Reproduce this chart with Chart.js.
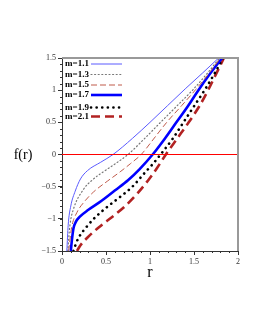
<!DOCTYPE html>
<html>
<head>
<meta charset="utf-8">
<script src="https://cdn.jsdelivr.net/npm/chart.js@4.4.1/dist/chart.umd.min.js"></script>
<style>
  body { margin: 0; background: #fff; }
  #wrap { width: 258px; height: 333px; }
</style>
</head>
<body>
<div id="wrap"><canvas id="myChart" width="258" height="333"></canvas></div>
<script>
const ctx = document.getElementById('myChart');

// values: r and f(r) per curve
const labels = ['m=1.1', 'm=1.3', 'm=1.5', 'm=1.7', 'm=1.9', 'm=2.1'];

const r11 = [0.055, 0.07, 0.1, 0.15, 0.21, 0.29, 0.44, 0.58, 0.8, 1.0, 1.2, 1.4, 1.6, 1.78];
const f11 = [-1.5, -1.1, -0.8, -0.57, -0.38, -0.25, -0.12, 0, 0.25, 0.5, 0.76, 1.02, 1.27, 1.5];

const r13 = [0.065, 0.09, 0.13, 0.24, 0.35, 0.48, 0.62, 0.75, 0.94, 1.12, 1.31, 1.49, 1.65, 1.79];
const f13 = [-1.5, -1.1, -0.85, -0.55, -0.39, -0.26, -0.13, 0, 0.25, 0.5, 0.76, 1.01, 1.26, 1.5];

const r15 = [0.075, 0.11, 0.17, 0.25, 0.36, 0.52, 0.66, 0.78, 0.9, 1.04, 1.19, 1.36, 1.52, 1.67, 1.8];
const f15 = [-1.5, -1.13, -0.9, -0.74, -0.58, -0.41, -0.27, -0.14, 0, 0.24, 0.5, 0.76, 1.01, 1.26, 1.5];

const r17 = [0.1, 0.115, 0.13, 0.16, 0.2, 0.3, 0.45, 0.6, 0.75, 0.88, 1.03, 1.17, 1.3, 1.43, 1.55, 1.68, 1.82];
const f17 = [-1.5, -1.3, -1.15, -1.04, -0.97, -0.86, -0.72, -0.56, -0.4, -0.23, 0, 0.25, 0.5, 0.75, 1, 1.25, 1.5];

const r19 = [0.13, 0.16, 0.19, 0.27, 0.36, 0.5, 0.65, 0.8, 0.93, 1.03, 1.12, 1.26, 1.38, 1.5, 1.62, 1.73, 1.83];
const f19 = [-1.5, -1.38, -1.29, -1.14, -1.0, -0.83, -0.67, -0.5, -0.3, -0.15, 0, 0.25, 0.5, 0.75, 1, 1.25, 1.5];

const r21 = [0.17, 0.21, 0.29, 0.42, 0.57, 0.72, 0.86, 0.98, 1.08, 1.18, 1.31, 1.44, 1.56, 1.66, 1.75, 1.84];
const f21 = [-1.5, -1.41, -1.29, -1.13, -0.97, -0.8, -0.6, -0.4, -0.21, 0, 0.25, 0.5, 0.75, 1, 1.25, 1.5];

const xTicks = [0, 0.5, 1, 1.5, 2];
const yTicks = [-1.5, -1, -0.5, 0, 0.5, 1, 1.5];

const styles = [
  { color: '#5a5aff', width: 1, dash: [] },
  { color: '#777777', width: 1.2, dash: [1, 2.6], cap: 'round' },
  { color: '#bf5a4a', width: 1, dash: [6, 3] },
  { color: '#0000ff', width: 2.6, dash: [] },
  { color: '#000000', width: 2.6, dash: [0.1, 5.5], cap: 'round' },
  { color: '#b22222', width: 2.6, dash: [9, 5] }
];

function pts(rs, fs) {
  return rs.map((r, i) => ({ x: r, y: fs[i] }));
}

const series = [pts(r11, f11), pts(r13, f13), pts(r15, f15), pts(r17, f17), pts(r19, f19), pts(r21, f21)];

const datasets = series.map((d, i) => ({
  label: labels[i],
  data: d,
  borderColor: styles[i].color,
  borderWidth: styles[i].width,
  borderDash: styles[i].dash,
  borderCapStyle: styles[i].cap || 'butt',
  pointRadius: 0,
  cubicInterpolationMode: 'monotone',
  fill: false
}));

// zero line
datasets.unshift({
  label: 'zero',
  data: [{ x: 0, y: 0 }, { x: 2, y: 0 }],
  borderColor: '#ff0000',
  borderWidth: 1,
  pointRadius: 0
});

const extras = {
  id: 'extras',
  afterDraw(chart) {
    const c = chart.ctx;
    const a = chart.chartArea;
    const xs = chart.scales.x, ys = chart.scales.y;
    c.save();
    // frame top and right
    c.strokeStyle = '#999';
    c.lineWidth = 2;
    c.beginPath();
    c.moveTo(a.left, a.top);
    c.lineTo(a.right, a.top);
    c.lineTo(a.right, a.bottom);
    c.stroke();
    // minor ticks
    c.strokeStyle = '#333';
    c.lineWidth = 1;
    c.beginPath();
    for (let v = -1.5; v <= 1.5001; v += 0.1) {
      const y = Math.round(ys.getPixelForValue(v)) + 0.5;
      c.moveTo(a.left - 2, y);
      c.lineTo(a.left, y);
    }
    for (let v = 0; v <= 2.0001; v += 0.1) {
      const x = Math.round(xs.getPixelForValue(v)) + 0.5;
      c.moveTo(x, a.bottom);
      c.lineTo(x, a.bottom + 2);
    }
    c.stroke();
    // axis titles
    c.fillStyle = '#000';
    c.font = '14px "Liberation Serif"';
    c.textAlign = 'center';
    c.textBaseline = 'middle';
    c.fillText('f(r)', 23, ys.getPixelForValue(0) + 1);
    c.font = '16px "Liberation Serif"';
    c.fillText('r', (a.left + a.right) / 2, 273);
    // legend
    const rowsY = [64, 74.5, 85, 95, 107.5, 116.5];
    c.font = 'bold 9px "Liberation Serif"';
    c.textAlign = 'left';
    for (let i = 0; i < labels.length; i++) {
      const y = rowsY[i];
      c.fillStyle = '#000';
      c.fillText(labels[i], 65, y);
      c.strokeStyle = styles[i].color;
      c.lineWidth = styles[i].width;
      c.setLineDash(styles[i].dash);
      c.lineCap = styles[i].cap || 'butt';
      c.beginPath();
      c.moveTo(91, y);
      c.lineTo(122, y);
      c.stroke();
    }
    c.restore();
  }
};

const myChart = new Chart(ctx, {
  type: 'line',
  data: { datasets: datasets },
  options: {
    responsive: false,
    animation: false,
    layout: { padding: { top: 58, right: 20, left: 0, bottom: 0 } },
    plugins: { legend: { display: false }, tooltip: { enabled: false } },
    scales: {
      x: {
        type: 'linear',
        min: 0,
        max: 2,
        afterFit: s => { s.height = 82; },
        afterBuildTicks: s => { s.ticks = xTicks.map(v => ({ value: v })); },
        ticks: {
          color: '#333',
          font: { family: 'Liberation Serif', size: 8 },
          padding: 2,
          maxRotation: 0,
          callback: v => String(v)
        },
        grid: { drawOnChartArea: false, drawTicks: true, tickLength: 4, color: '#333' },
        border: { display: true, color: '#333', width: 1 }
      },
      y: {
        type: 'linear',
        min: -1.5,
        max: 1.5,
        afterFit: s => { s.width = 62; },
        afterBuildTicks: s => { s.ticks = yTicks.map(v => ({ value: v })); },
        ticks: {
          color: '#333',
          font: { family: 'Liberation Serif', size: 8 },
          padding: 2,
          callback: v => String(v).replace('-', '\u2212')
        },
        grid: { drawOnChartArea: false, drawTicks: true, tickLength: 4, color: '#333' },
        border: { display: true, color: '#333', width: 1 }
      }
    }
  },
  plugins: [extras]
});
</script>
</body>
</html>
